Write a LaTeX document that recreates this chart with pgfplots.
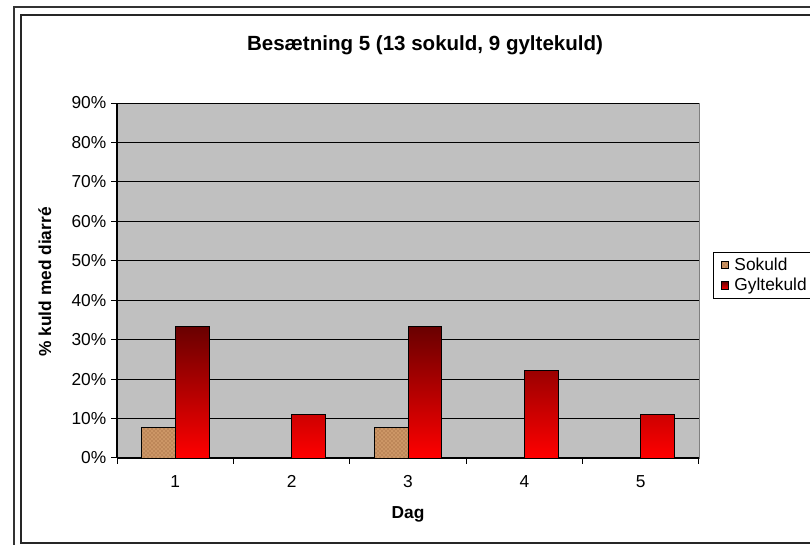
\documentclass[border=0pt]{standalone}
\usepackage{pgfplots}
\pgfplotsset{compat=1.18}
\usepackage{fontspec}
\setmainfont{Liberation Sans}
\usetikzlibrary{patterns}
\definecolor{plotgray}{RGB}{192,192,192}
\definecolor{cork}{RGB}{204,150,102}
\definecolor{corkdark}{RGB}{140,88,50}
\definecolor{darkred}{RGB}{105,0,0}
\definecolor{brightred}{RGB}{255,0,0}

\begin{document}
\begin{tikzpicture}
% whole picture is 810x545 px at 0.75pt per px
\useasboundingbox (0pt,0pt) rectangle (607.5pt,408.75pt);
\clip (0pt,0pt) rectangle (607.5pt,408.75pt);
% chart frame
\draw[line width=1.8pt, black!80] (10.5pt,-5pt) -- (10.5pt,403.5pt) -- (620pt,403.5pt);
\draw[line width=1pt, black!85] (15.75pt,1.5pt) rectangle (620pt,397.5pt);
\node[font=\fontsize{15.4}{18}\selectfont\bfseries] at (318.75pt,375pt)
  {Besætning 5 (13 sokuld, 9 gyltekuld)};

\begin{axis}[
  at={(87.75pt,65.25pt)}, anchor=south west,
  scale only axis, width=436.5pt, height=266.25pt,
  xmin=0.5, xmax=5.5, ymin=0, ymax=90,
  ybar=0pt, bar width=0.29,
  axis background/.style={fill=plotgray, draw=gray},
  axis x line*=bottom, axis y line*=left,
  axis line style={-, black, line width=0.8pt},
  ymajorgrids, major grid style={black, line width=0.75pt},
  tick align=outside, major tick length=4.5pt,
  tick style={black, line width=0.75pt},
  ytick={0,10,...,90},
  yticklabels={0\%,10\%,20\%,30\%,40\%,50\%,60\%,70\%,80\%,90\%},
  xtick={0.5,1.5,2.5,3.5,4.5,5.5}, xticklabels={},
  extra x ticks={1,2,3,4,5}, extra x tick labels={1,2,3,4,5},
  extra x tick style={major tick length=0pt, grid=none,
    xticklabel style={yshift=-9.5pt}},
  tick label style={font=\fontsize{13}{15}\selectfont},
  /pgf/number format/assume math mode=true,
  xlabel={Dag}, ylabel={\% kuld med diarré},
  label style={font=\fontsize{13}{15}\selectfont\bfseries},
  xlabel style={at={(axis description cs:0.5,-0.16)}, anchor=center},
  ylabel style={at={(axis description cs:-0.124,0.496)}, anchor=center},
  legend style={at={(1.0241,0.58)}, anchor=north west, draw=black,
    fill=white, font=\fontsize{13}{15}\selectfont, row sep=0.5pt,
    nodes={text width=75pt}},
  legend cell align=left,
  legend image code/.code={%
    \pgfpathmoveto{\pgfqpoint{0pt}{0pt}}%
    \pgfpathmoveto{\pgfqpoint{10.9pt}{0pt}}%
    \pgfusepath{}%
    \draw[#1] (3pt,-2.8pt) rectangle (8.6pt,2.8pt);},
]
\addplot[fill=cork, draw=black, line width=0.6pt,
  postaction={pattern=crosshatch dots, pattern color=corkdark}]
  coordinates {(1,7.69) (3,7.69)};
\addplot[top color=darkred, bottom color=brightred, draw=black, line width=0.6pt]
  coordinates {(1,33.33) (2,11.11) (3,33.33) (4,22.22) (5,11.11)};
\legend{Sokuld,Gyltekuld}
\end{axis}
\end{tikzpicture}
\end{document}
